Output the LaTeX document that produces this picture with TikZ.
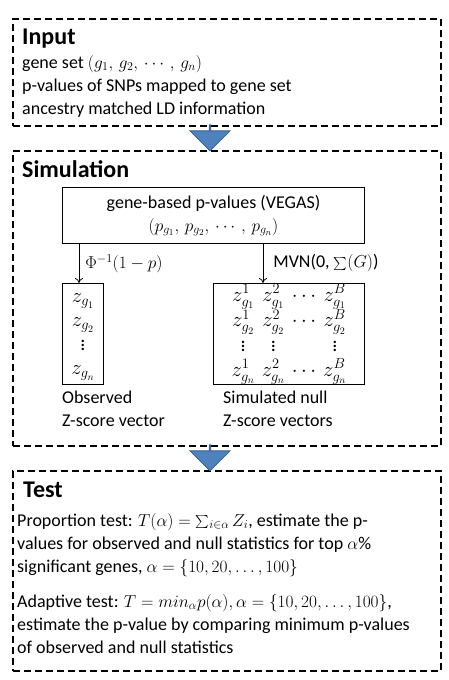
\documentclass[tikz,border=0pt]{standalone}
\usepackage{fontspec}
\setmainfont{Carlito}
\usetikzlibrary{arrows.meta,positioning,shapes.arrows}
\definecolor{sblue}{HTML}{4F81BD}
\definecolor{sbluedark}{HTML}{385D8A}
\newcommand{\bigsum}{\mathop{\vcenter{\hbox{\scalebox{1.3}{$\sum$}}}}}

\begin{document}
\begin{tikzpicture}[x=1pt, y=-1pt,
    every node/.style={font=\fontsize{18}{23}\selectfont, align=left, inner sep=0pt},
    stagebox/.style={draw, line width=2pt, dash pattern=on 7pt off 4pt,
      minimum width=428pt, anchor=north west},
    stagetitle/.style={font=\fontsize{24}{28}\selectfont\bfseries, anchor=north west},
    plainbox/.style={draw, line width=1pt},
    zbox/.style={plainbox, minimum height=101pt, font=\fontsize{20}{24}\selectfont},
    flowarrow/.style={single arrow, draw=sbluedark, fill=sblue, line width=0.8pt,
      shape border rotate=270, minimum width=40pt, minimum height=26pt,
      single arrow head extend=10pt, inner sep=0pt}]
  \useasboundingbox (0,0) rectangle (448,680);

  % input stage
  \node[stagebox, minimum height=107pt] (input) at (12,18) {};
  \node[stagetitle] (inputtitle) at (22,29) {Input};
  \node[anchor=north west] (inputtext) at (22,55)
    {gene set $(g_1,\,g_2,\,\cdots\,,\,g_n)$\\
     p-values of SNPs mapped to gene set\\
     ancestry matched LD information};

  % simulation stage
  \node[stagebox, minimum height=295pt] (sim) at (12,150) {};
  \node[stagetitle] (simtitle) at (22,160) {Simulation};
  \node[plainbox, minimum width=302pt, minimum height=56pt, anchor=north west,
        align=center] (vegas) at (62,187)
    {gene-based p-values (VEGAS)\\$(p_{g_1},\,p_{g_2},\,\cdots\,,\,p_{g_n})$};
  \node[zbox, minimum width=41pt,
        below=39pt of vegas.south west, anchor=north west] (obs)
    {$\begin{array}{@{}c@{}} z_{g_1}\\ z_{g_2}\\ \vdots\\ z_{g_n}\end{array}$};
  \node[zbox, minimum width=151pt,
        below=39pt of vegas.south east, anchor=north east] (null)
    {$\begin{array}{@{}c@{\hspace{7pt}}c@{\hspace{7pt}}c@{\hspace{7pt}}c@{}}
       z^1_{g_1} & z^2_{g_1} & \cdots & z^B_{g_1}\\
       z^1_{g_2} & z^2_{g_2} & \cdots & z^B_{g_2}\\
       \vdots & \vdots & & \vdots\\
       z^1_{g_n} & z^2_{g_n} & \cdots & z^B_{g_n}
     \end{array}$};
  \draw[-{To[length=5pt,width=8pt]}, line width=0.8pt]
    ([xshift=-4pt]obs.north |- vegas.south) -- ([xshift=-4pt]obs.north)
    node[midway, right=6pt] {$\Phi^{-1}(1-p)$};
  \draw[-{To[length=5pt,width=8pt]}, line width=0.8pt]
    ([xshift=-26pt]null.north |- vegas.south) -- ([xshift=-26pt]null.north)
    node[midway, right=10pt] {MVN(0, $\bigsum(G)$)};
  \node[below=6pt of obs.south west, anchor=north west] (obslabel)
    {Observed\\Z-score vector};
  \node[below=6pt of null.south west, anchor=north west, xshift=10pt] (nulllabel)
    {Simulated null\\Z-score vectors};

  % test stage
  \node[stagebox, minimum height=200pt] (test) at (12,470) {};
  \node[stagetitle] (testtitle) at (23,482) {Test};
  \node[anchor=north west] (proptest) at (17,513)
    {Proportion test: $T(\alpha)=\bigsum_{i\in\alpha}Z_i$, estimate the p-\\
     values for observed and null statistics for top $\alpha\%$\\
     significant genes, $\alpha=\{10,20,\ldots,100\}$};
  \node[anchor=north west] (adapttest) at (17,594)
    {Adaptive test: $T=min_{\alpha}p(\alpha),\alpha=\{10,20,\ldots,100\}$,\\
     estimate the p-value by comparing minimum p-values\\
     of observed and null statistics};

  % block arrows between stages
  \node[flowarrow] (flowA) at (210,137.5) {};
  \node[flowarrow] (flowB) at (210,457.5) {};
\end{tikzpicture}
\end{document}
